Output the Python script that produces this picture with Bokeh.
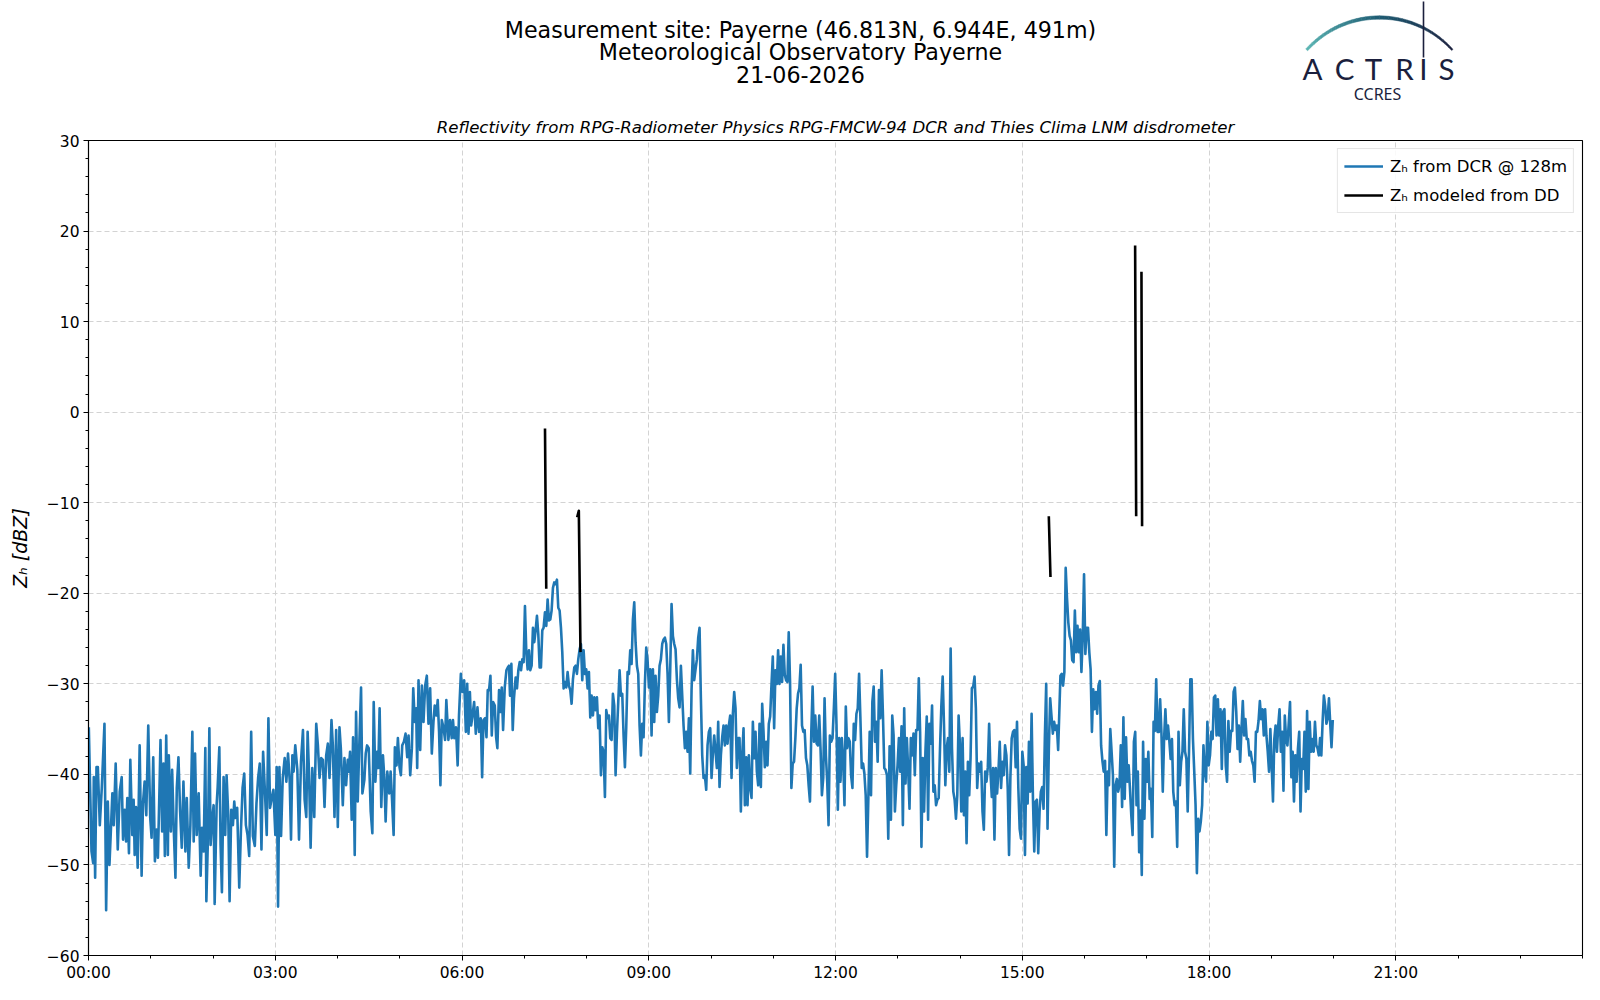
import numpy as np
from bokeh.plotting import figure
from bokeh.layouts import column
from bokeh.models import FixedTicker, Range1d
from bokeh.core.properties import value
from bokeh.embed import file_html
from bokeh.resources import INLINE

# ---------------- data (time in minutes after 00:00 UTC, reflectivity in dBZ) ----------------
dcr_minutes_a = [
    0.3, 2.9, 4.5, 5.1, 6.4, 7.7, 9.0, 10.9, 12.8, 15.4,
    17.0, 18.6, 20.2, 21.7, 23.0, 24.3, 26.2, 28.2, 30.1, 32.0,
    33.3, 34.9, 36.2, 37.4, 39.0, 40.3, 42.2, 43.5, 44.5, 45.8,
    47.4, 49.3, 51.2, 52.5, 54.1, 55.7, 57.6, 59.5, 60.8, 62.4,
    64.0, 65.6, 66.9, 68.5, 69.4, 71.0, 72.3, 73.6, 74.9, 76.5,
    77.4, 79.4, 80.6, 82.2, 83.8, 85.1, 86.7, 88.3, 89.9, 91.5,
    93.4, 94.7, 96.6, 98.2, 100.1, 101.4, 102.7, 104.3, 106.2, 108.1,
    109.4, 111.0, 112.6, 113.6, 115.2, 116.5, 117.7, 119.3, 120.6, 121.6,
    123.5, 124.5, 126.1, 127.3, 128.6, 130.2, 131.8, 133.1, 134.7, 136.0,
    137.6, 139.2, 140.5, 141.7, 143.3, 145.3, 146.9, 148.5, 150.1, 151.7,
    153.3, 154.9, 156.8, 158.4, 160.3, 161.9, 163.5, 165.1, 166.7, 168.3,
    170.2, 171.8, 173.4, 175.0, 176.6, 178.2, 180.1, 181.4, 182.7, 184.0,
    185.6, 187.2, 189.1, 190.7, 192.3, 193.9, 195.2, 196.5, 197.7, 199.3,
    201.3, 202.9, 204.8, 206.7, 208.3, 209.9, 211.2, 212.5, 214.1, 215.7,
    217.6, 219.5, 221.1, 222.7, 224.3, 225.9, 227.5, 229.1, 230.7, 232.3,
    234.2, 235.5, 237.1, 238.7, 240.3, 241.9, 243.2, 245.1, 246.7, 248.3,
    249.9, 250.9, 252.1, 253.7, 255.0, 256.6, 257.9, 259.5, 261.1, 262.7,
    264.0, 265.9, 267.2, 268.5, 270.1, 272.0, 273.6, 274.9, 276.5, 278.1,
    279.3, 280.6, 282.2, 283.8, 285.1, 286.4, 288.0, 289.9, 291.2, 292.5,
    294.1, 295.3, 296.9, 298.2, 299.8, 301.1, 302.4, 304.0, 305.6, 307.2,
    308.5, 310.1, 311.7, 313.0, 314.5, 315.8, 316.8, 318.1, 319.7, 321.3,
    322.9, 324.5, 326.1, 327.7, 329.3, 330.9, 332.5, 333.7, 335.3, 336.6,
    337.9, 339.2, 340.5, 342.1, 343.7, 344.9, 346.9, 348.5, 350.1, 351.3,
    352.6, 354.2, 355.8, 357.1,
    358.9, 360.5, 362.1, 363.7, 365.0, 366.3, 367.6, 368.8, 370.1, 371.7,
    373.3, 374.9, 376.5, 378.1, 379.4, 380.7, 382.3, 383.6, 384.8, 386.1,
    387.4, 388.7, 390.0, 391.6, 392.9, 394.1, 395.7, 397.0, 398.3, 399.6,
    401.2, 402.8, 404.1, 405.3, 406.3, 407.6, 408.9, 410.1, 411.7, 413.0,
    414.3, 415.6, 416.9, 418.1,
]
dcr_dbz_a = [
    -34.8, -48.5, -49.8, -40.3, -51.4, -39.2, -39.2, -45.6, -41.5, -34.4,
    -55.0, -43.0, -50.0, -45.8, -42.1, -45.6, -38.8, -48.3, -41.9, -40.3,
    -47.2, -43.9, -47.4, -42.6, -48.7, -38.4, -46.7, -42.8, -48.9, -43.6,
    -50.3, -36.8, -51.2, -43.2, -40.8, -44.5, -34.6, -44.8, -47.0, -38.1,
    -49.6, -46.1, -49.2, -41.2, -36.2, -46.3, -38.8, -49.0, -35.7, -48.9,
    -37.9, -46.3, -39.5, -46.1, -51.4, -41.5, -38.1, -44.1, -48.1, -40.8,
    -48.5, -42.6, -50.3, -45.6, -35.3, -47.4, -37.7, -46.7, -42.1, -51.2,
    -45.9, -48.5, -37.1, -54.0, -46.7, -34.9, -47.8, -44.8, -43.4, -54.3,
    -43.4, -41.4, -37.0, -47.8, -53.0, -40.3, -46.7, -40.1, -44.5, -54.0,
    -43.9, -45.6, -43.0, -44.8, -43.7, -52.5, -46.3, -41.5, -39.9, -45.6,
    -46.7, -49.0, -35.3, -46.8, -47.9, -43.2, -40.4, -38.8, -48.3, -37.5,
    -42.3, -46.7, -33.8, -43.7, -42.6, -41.7, -46.7, -39.2, -54.6, -39.2,
    -46.8, -40.4, -38.2, -40.8, -37.7, -40.6, -47.2, -37.9, -39.7, -36.8,
    -39.5, -47.2, -38.6, -35.1, -42.8, -44.7, -35.3, -39.7, -48.1, -39.3,
    -44.7, -34.4, -36.8, -40.4, -38.2, -38.4, -43.6, -37.9, -36.6, -40.4,
    -34.0, -36.8, -44.7, -35.1, -45.8, -34.8, -37.1, -43.4, -38.2, -41.2,
    -38.4, -39.7, -37.5, -45.0, -35.9, -48.9, -33.1, -43.0, -36.4, -30.4,
    -42.1, -40.6, -37.7, -36.8, -37.1, -44.1, -46.5, -32.0, -40.8, -37.5,
    -39.3, -32.7, -43.6, -37.9, -40.3, -45.2, -39.7, -42.1, -39.7, -42.6,
    -46.7, -37.0, -39.0, -36.0, -39.2, -40.1, -36.8, -36.4, -35.5, -38.1,
    -35.7, -40.1, -37.1, -30.5, -34.2, -32.7, -39.3, -29.6, -37.3, -30.2,
    -34.2, -30.2, -29.1, -34.4, -30.5, -37.7, -34.2, -32.4, -33.5, -31.8,
    -35.3, -41.2, -34.0, -34.8, -36.2, -31.8, -36.2, -34.0, -36.0, -34.0,
    -36.0, -34.8, -39.0, -33.5,
    -28.9, -30.9, -29.6, -35.3, -30.0, -35.5, -30.9, -34.6, -33.5, -32.0,
    -35.5, -32.6, -35.3, -33.8, -40.3, -34.0, -33.8, -35.9, -30.7, -30.7,
    -29.1, -35.7, -32.0, -32.4, -35.9, -37.1, -30.7, -33.1, -30.4, -35.1,
    -30.4, -28.5, -28.2, -28.0, -31.3, -27.8, -35.1, -31.6, -29.3, -30.5,
    -28.5, -27.6, -28.5, -27.3,
]

# regularly sampled stretches: (first minute, last minute) and the values
dcr_span_b = (419.4, 644.2)
dcr_dbz_b = [
    -27.6, -21.4, -26.5, -28.4, -26.3, -28.5, -28.0, -23.8, -25.4, -24.1,
    -22.5, -24.5, -28.2, -28.2, -24.1, -23.8, -22.1, -23.6, -20.7, -23.0,
    -22.9, -21.9, -19.4, -18.8, -19.0, -18.5, -21.6, -21.9, -23.8, -26.5,
    -30.5, -29.8, -30.4, -28.7, -30.2, -30.7, -32.2, -29.5, -28.2, -28.0,
    -28.9, -27.3, -26.2, -25.6, -29.6, -26.3, -28.9, -28.4, -30.5, -28.7,
    -33.7, -31.3, -33.5, -31.5, -32.9, -31.5, -34.9, -33.5, -40.1, -37.0,
    -37.5, -42.5, -32.9, -33.8, -33.5, -36.0, -36.2, -31.1, -32.4, -40.1,
    -35.5, -32.0, -28.5, -31.3, -31.1, -35.7, -39.2, -34.8, -28.7, -28.9,
    -26.3, -27.8, -22.9, -21.0, -25.4, -28.0, -28.9, -34.6, -37.9, -34.4,
    -35.9, -30.0, -26.0, -27.4, -30.4, -28.4, -35.7, -28.4, -34.2, -29.1,
    -33.1, -31.3, -28.0, -27.3, -25.6, -25.1, -24.9, -25.6, -28.9, -34.2,
    -28.4, -21.2, -24.7, -25.6, -26.2, -29.5, -31.6, -32.6, -28.0, -31.3,
    -34.6, -37.1, -35.3, -37.5, -33.8, -39.9, -30.7, -26.3, -29.6, -28.4,
    -27.3, -24.9, -23.8, -31.6, -37.9, -40.4, -40.1, -41.7, -36.8, -35.3,
    -34.9, -40.4, -37.7, -35.7, -37.5, -39.3, -34.2, -41.4, -37.9, -35.9,
    -34.6, -36.8, -34.6, -36.6, -34.6, -33.5, -40.4, -33.3, -30.9, -32.7,
    -39.3, -36.0, -36.0, -44.1, -37.9, -34.9, -43.4, -38.1, -43.4, -37.9,
    -41.5, -42.6, -34.2, -38.2, -35.3, -39.7,
]
dcr_span_c = (645.5, 934.6)
dcr_dbz_c = [
    -41.2, -34.4, -41.4, -32.2, -35.3, -39.2, -36.4, -39.0, -34.4, -33.6,
    -30.1, -27.0, -34.9, -28.5, -30.0, -26.3, -30.0, -27.0, -29.8, -25.7,
    -29.0, -29.6, -29.8, -24.3, -29.8, -41.5, -38.8, -38.6, -36.0, -32.7,
    -31.1, -30.5, -27.9, -34.6, -35.3, -35.1, -38.2, -39.0, -41.2, -43.0,
    -35.3, -30.3, -36.4, -33.5, -36.6, -36.8, -33.5, -37.3, -42.3, -40.4,
    -31.6, -37.9, -40.8, -45.6, -35.7, -36.4, -36.0, -32.7, -28.9, -34.6,
    -43.9, -36.0, -40.8, -36.0, -38.2, -43.4, -32.5, -37.1, -36.0, -36.4,
    -40.1, -41.5, -34.4, -36.2, -33.3, -32.7, -28.9, -33.8, -39.3, -38.8,
    -39.9, -42.3, -49.1, -42.6, -35.3, -42.3, -32.0, -30.3, -36.4, -34.2,
    -38.6, -30.7, -33.8, -28.5, -33.5, -39.3, -39.5, -40.1, -47.1, -36.9,
    -45.0, -33.5, -35.7, -44.1, -41.2, -39.0, -36.0, -39.7, -34.7, -45.6,
    -32.7, -41.0, -36.0, -39.5, -43.8, -36.0, -37.9, -35.5, -40.1, -35.1,
    -35.1, -29.4, -35.3, -48.0, -38.2, -44.1, -37.5, -33.6, -45.0, -34.4,
    -36.6, -32.4, -41.9, -41.2, -43.4, -42.8, -42.6, -37.1, -32.4, -29.2,
    -34.6, -41.2, -37.1, -36.0, -39.7, -26.1, -37.1, -41.9, -42.8, -44.9,
    -42.3, -33.5, -36.8, -44.1, -36.0, -44.5, -39.7, -47.6, -38.6, -42.3,
    -38.2, -30.5, -30.3, -29.2, -32.7, -41.5, -38.8, -39.7, -38.6, -44.1,
    -46.1, -39.7, -40.8, -39.2, -34.4, -39.7, -42.5, -39.3, -47.2, -39.3,
    -42.1, -39.7, -36.4, -41.5, -38.6, -40.1, -36.8, -37.9, -41.5, -48.9,
    -40.4, -36.0, -35.3, -35.1, -39.2, -34.2, -41.5, -46.0, -47.1, -37.5,
    -39.0, -48.9, -39.2, -43.2, -36.4, -41.9, -33.3, -42.6, -48.5, -43.0,
    -42.8, -48.7, -44.1, -41.9, -41.4, -43.8, -35.8, -30.0, -46.0, -37.1,
    -31.6, -33.6, -35.5, -34.2, -35.1, -34.6, -37.3,
]
dcr_span_d = (936.8, 1183.4)
dcr_dbz_d = [
    -29.1, -28.9, -30.2, -28.7, -17.2, -20.5, -23.2, -24.7, -25.2, -27.4,
    -27.6, -21.9, -26.5, -23.6, -26.5, -24.0, -28.7, -24.7, -17.9, -26.7,
    -23.8, -23.8, -26.5, -28.4, -35.3, -30.6, -32.8, -30.9, -33.3, -30.2,
    -29.7, -36.8, -38.5, -39.7, -38.5, -46.7, -39.7, -41.2, -35.0, -37.5,
    -40.1, -50.2, -41.2, -40.5, -41.9, -41.2, -36.8, -43.6, -33.7, -42.7,
    -35.9, -40.8, -39.0, -41.6, -44.5, -46.7, -36.4, -35.3, -43.4, -39.7,
    -48.6, -44.0, -51.1, -36.4, -44.9, -38.3, -40.8, -37.5, -42.7, -41.6,
    -46.9, -34.2, -35.2, -29.5, -35.3, -35.3, -31.7, -35.5, -41.9, -36.1,
    -32.8, -36.1, -34.6, -36.3, -38.3, -36.1, -41.9, -43.4, -43.0, -48.0,
    -35.3, -41.2, -38.6, -37.5, -32.8, -37.5, -38.3, -44.1, -37.5, -29.5,
    -29.5, -36.1, -39.7, -43.4, -50.9, -44.9, -46.3, -45.2, -43.4, -36.8,
    -39.7, -40.8, -34.2, -39.0, -37.9, -35.3, -36.1, -31.5, -31.3, -35.7,
    -31.7, -35.7, -32.8, -39.4, -33.1, -32.8, -39.0, -40.8, -34.1, -37.5,
    -35.2, -35.2, -30.9, -30.4, -33.1, -37.2, -34.6, -38.6, -35.0, -31.9,
    -35.7, -33.9, -36.1, -36.1, -37.9, -37.5, -38.5, -39.0, -40.8, -35.3,
    -35.3, -34.1, -31.9, -33.9, -32.8, -35.7, -32.8, -35.7, -37.5, -39.7,
    -35.0, -39.0, -43.0, -36.1, -34.6, -37.5, -34.6, -32.8, -37.5, -35.3,
    -41.8, -33.5, -36.1, -36.8, -34.4, -32.0, -40.3, -37.5, -43.0, -37.9,
    -40.8, -37.2, -35.3, -44.1, -38.3, -39.4, -35.3, -41.9, -33.0, -41.6,
    -34.2, -37.5, -36.1, -37.5, -34.2, -36.8,
]
dcr_span_e = (1184.6, 1199.3)
dcr_dbz_e = [-37.1, -37.9, -36.0, -37.9, -34.2, -31.3, -32.4, -34.4, -33.8, -31.6, -34.4, -37.0, -34.0]

# disdrometer-modelled reflectivity (NaN separates the short events)
nan = float("nan")
dd_minutes = [440.0, 441.2, nan, 471.0, 472.6, 474.2, nan, 925.6, 927.2, nan,
              1008.8, 1009.8, nan, 1014.9, 1015.5]
dd_dbz = [-1.8, -19.5, nan, -11.6, -10.9, -26.5, nan, -11.5, -18.2, nan,
          18.4, -11.5, nan, 15.5, -12.6]

x_tick_minutes = [0, 180, 360, 540, 720, 900, 1080, 1260]
x_tick_labels = ["00:00", "03:00", "06:00", "09:00", "12:00", "15:00", "18:00", "21:00"]
y_tick_values = [-60, -50, -40, -30, -20, -10, 0, 10, 20, 30]
y_tick_labels = ["\u221260", "\u221250", "\u221240", "\u221230", "\u221220", "\u221210", "0", "10", "20", "30"]

title_lines = ["Measurement site: Payerne (46.813N, 6.944E, 491m)",
               "Meteorological Observatory Payerne",
               "21-06-2026"]
subtitle = "Reflectivity from RPG-Radiometer Physics RPG-FMCW-94 DCR and Thies Clima LNM disdrometer"
legend_labels = ["Z\u2095 from DCR @ 128m", "Z\u2095 modeled from DD"]

# ---------------- assemble series ----------------
dcr_minutes = (list(dcr_minutes_a)
               + list(np.linspace(dcr_span_b[0], dcr_span_b[1], len(dcr_dbz_b)))
               + list(np.linspace(dcr_span_c[0], dcr_span_c[1], len(dcr_dbz_c)))
               + list(np.linspace(dcr_span_d[0], dcr_span_d[1], len(dcr_dbz_d)))
               + list(np.linspace(dcr_span_e[0], dcr_span_e[1], len(dcr_dbz_e))))
dcr_dbz = list(dcr_dbz_a) + dcr_dbz_b + dcr_dbz_c + dcr_dbz_d + dcr_dbz_e
n = min(len(dcr_minutes), len(dcr_dbz))
dcr_minutes, dcr_dbz = dcr_minutes[:n], dcr_dbz[:n]

FONT = "DejaVu Sans"
W = 1584
HEAD_H = 105
FRAME_L, FRAME_R = 88, 1582   # the column aligns the header frame with the plot frame

# ---------------- header (titles + logo), pixel-like coordinates, y downwards ----------------
h = figure(width=W, height=HEAD_H, x_range=Range1d(FRAME_L, FRAME_R), y_range=Range1d(HEAD_H, 0),
           output_backend="svg", toolbar_location=None, x_axis_location=None,
           y_axis_location=None, min_border=0, outline_line_color=None)
h.grid.visible = False
h.background_fill_color = "white"
h.border_fill_color = "white"

h.text(x=[800, 800, 800], y=[29, 51.5, 74], text=title_lines,
       text_font=value(FONT), text_font_size="22.2px", text_align="center",
       text_baseline="middle", text_color="black")

navy = "#1b1f3d"
h.text(x=[1312, 1344, 1373, 1404, 1423, 1446], y=[68] * 6, text=list("ACTRIS"),
       text_font=value("Lato"), text_font_size="29.5px", text_align="center",
       text_baseline="middle", text_color=navy)
h.text(x=[1377], y=[93], text=["CCRES"], text_font=value("Noto Sans"), text_font_size="16px",
       text_align="center", text_baseline="middle", text_color=navy)

arc_cx, arc_cy, arc_r = 1379.0, 115.0, 98.0
n_seg = 36
angles = np.linspace(np.deg2rad(138), np.deg2rad(42), n_seg + 1)
widths = np.interp(np.linspace(0, 1, n_seg + 1), [0, 0.5, 1], [2.6, 3.4, 1.7])
c0 = np.array([92, 182, 180])
cm = np.array([30, 92, 115])
c1 = np.array([27, 31, 61])
arc_xs, arc_ys, arc_cols = [], [], []
for i in range(n_seg):
    a0, a1 = angles[i], angles[i + 1]
    w0, w1 = widths[i], widths[i + 1]
    arc_xs.append([arc_cx + (arc_r + w0 / 2) * np.cos(a0), arc_cx + (arc_r + w1 / 2) * np.cos(a1),
                   arc_cx + (arc_r - w1 / 2) * np.cos(a1), arc_cx + (arc_r - w0 / 2) * np.cos(a0)])
    arc_ys.append([arc_cy - (arc_r + w0 / 2) * np.sin(a0), arc_cy - (arc_r + w1 / 2) * np.sin(a1),
                   arc_cy - (arc_r - w1 / 2) * np.sin(a1), arc_cy - (arc_r - w0 / 2) * np.sin(a0)])
    t = (i + 0.5) / n_seg
    col = c0 + (cm - c0) * (t / 0.5) if t < 0.5 else cm + (c1 - cm) * ((t - 0.5) / 0.5)
    arc_cols.append("#%02x%02x%02x" % tuple(int(round(v)) for v in col))
h.patches(xs=arc_xs, ys=arc_ys, fill_color=arc_cols, line_color=arc_cols, line_width=0.5)
h.segment(x0=[1423], y0=[1], x1=[1423], y1=[57], line_color=navy, line_width=1.6)

# ---------------- main plot ----------------
p = figure(width=W, height=984 - HEAD_H, x_range=Range1d(0, 1440), y_range=Range1d(-60, 30),
           output_backend="svg", toolbar_location=None, title=subtitle,
           min_border_left=88, min_border_right=2, min_border_top=140 - HEAD_H,
           min_border_bottom=26)
p.title.align = "center"
p.title.text_font = FONT
p.title.text_font_style = "italic"
p.title.text_font_size = "16.6px"
p.title.text_color = "black"
p.title.standoff = 7
p.background_fill_color = "white"
p.border_fill_color = "white"
p.outline_line_color = "black"
p.outline_line_width = 1.1

p.line(dcr_minutes, dcr_dbz, line_color="#1f77b4", line_width=2.6, line_join="round",
       legend_label=legend_labels[0])
p.line(dd_minutes, dd_dbz, line_color="black", line_width=2.6, line_join="round",
       legend_label=legend_labels[1])

p.xaxis.ticker = FixedTicker(ticks=x_tick_minutes, minor_ticks=list(range(0, 1441, 60)))
p.xaxis.major_label_overrides = {m: l for m, l in zip(x_tick_minutes, x_tick_labels)}
p.yaxis.ticker = FixedTicker(ticks=y_tick_values, minor_ticks=list(range(-60, 31, 2)))
p.yaxis.major_label_overrides = {v: l for v, l in zip(y_tick_values, y_tick_labels)}
for ax in (p.xaxis[0], p.yaxis[0]):
    ax.axis_line_color = "black"
    ax.axis_line_width = 1.1
    ax.major_tick_line_color = "black"
    ax.minor_tick_line_color = "black"
    ax.major_tick_out = 5
    ax.major_tick_in = 0
    ax.minor_tick_out = 3
    ax.minor_tick_in = 0
    ax.major_label_text_font = FONT
    ax.major_label_text_font_size = "15.5px"
    ax.major_label_text_color = "black"
p.xaxis.major_label_standoff = 3
p.yaxis.major_label_standoff = 4
p.yaxis.axis_label = "Z\u2095 [dBZ]"
p.yaxis.axis_label_text_font = FONT
p.yaxis.axis_label_text_font_style = "italic"
p.yaxis.axis_label_text_font_size = "19px"
p.yaxis.axis_label_text_color = "black"
p.yaxis.axis_label_standoff = 13

for g in (p.xgrid[0], p.ygrid[0]):
    g.grid_line_color = "#d3d3d3"
    g.grid_line_dash = "5 3"
    g.grid_line_width = 1

lg = p.legend[0]
lg.location = "top_right"
lg.label_text_font = FONT
lg.label_text_font_size = "16.5px"
lg.label_text_color = "black"
lg.glyph_width = 39
lg.glyph_height = 22
lg.label_height = 22
lg.label_standoff = 7
lg.spacing = 7
lg.padding = 6
lg.margin = 8
lg.border_line_color = "#cccccc"
lg.border_line_width = 1
lg.background_fill_alpha = 0.85

layout = column(h, p, spacing=0)
open("out.html", "w").write(file_html(layout, INLINE))
